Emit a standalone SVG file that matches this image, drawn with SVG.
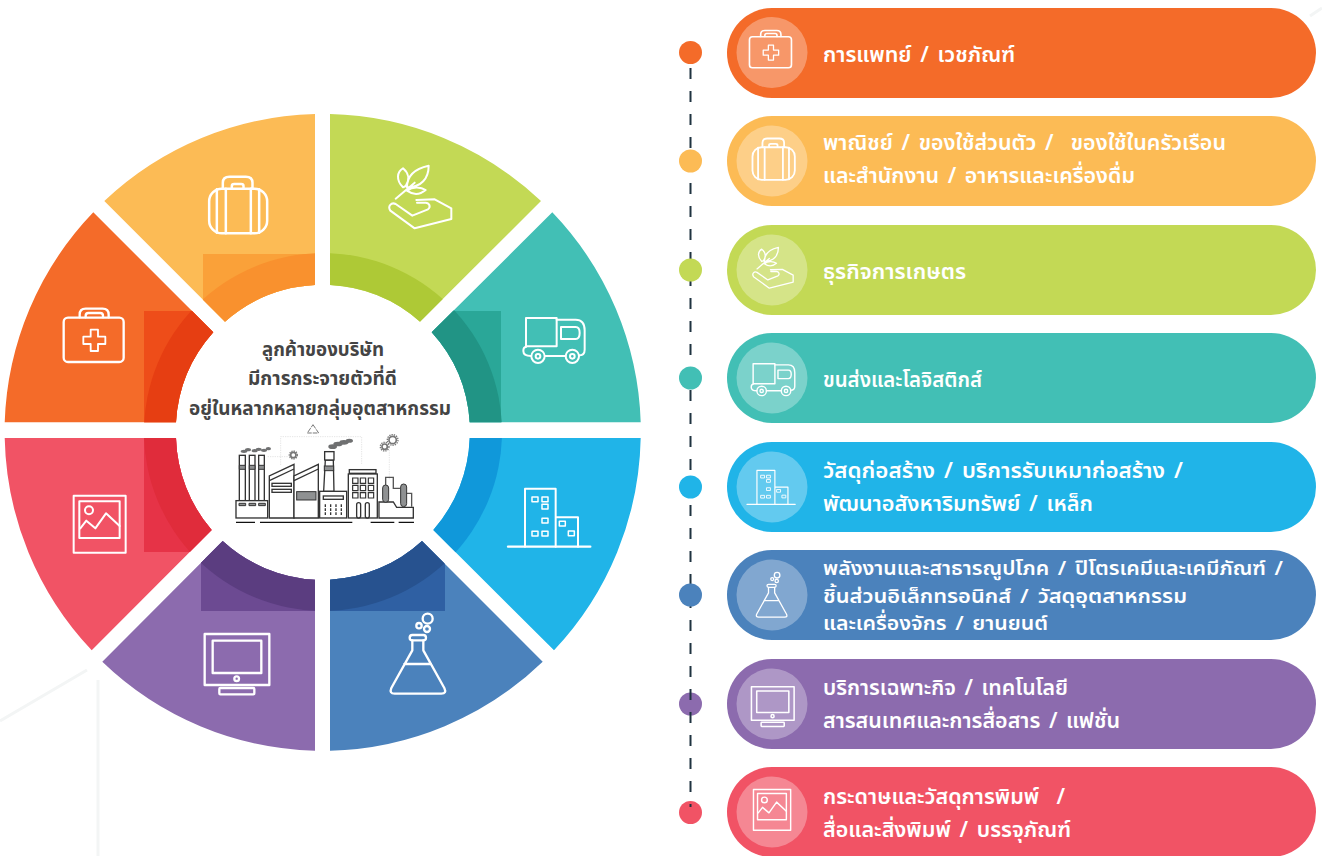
<svg xmlns="http://www.w3.org/2000/svg" xmlns:xlink="http://www.w3.org/1999/xlink" width="1322" height="856" viewBox="0 0 1322 856">
<style>
text{font-family:"Noto Sans Thai","Noto Sans","Open Sans","Liberation Sans",sans-serif;white-space:pre}
.lbl{fill:#fff;font-size:21px;font-weight:600;word-spacing:3px}
.sm{font-size:20px}
.ctr{fill:#444;font-size:19px;font-weight:700}
.halo{fill:#fff;fill-opacity:.3}
.ic{fill:none;stroke:#fff;stroke-linejoin:round;stroke-linecap:round}
.fa{fill:#fff;stroke:#333;stroke-width:4}
.fg{fill:#8f9192;stroke:#333;stroke-width:3}
.fd{fill:none;stroke:#ccc;stroke-width:1.5;stroke-dasharray:4 3}
.bg{fill:none;stroke:#f3f5f5;stroke-width:3}
.gear{fill:none;stroke:#777;stroke-width:5}
.teeth{fill:none;stroke:#777;stroke-width:4;stroke-dasharray:4 3}
</style>
<defs>
<g id="i-med" class="ic" stroke-width="7" transform="scale(.3333) translate(-190,-625)"><rect x="192" y="654" width="180" height="133" rx="13"/><path d="M240 653V645Q240 627 258 627H309Q327 627 327 645V653M258 653V648Q258 640 266 640H302Q310 640 310 648V653"/><path stroke-width="5.500" d="M273 690H295V711H317V733H295V754H273V733H251V711H273Z"/></g>
<g id="i-bag" class="ic" stroke-width="7.500" transform="scale(.3333) translate(-625,-228)"><rect x="627" y="266" width="174" height="134" rx="38"/><path d="M650 268V398M677 266V400M752 266V400M777 268V398M668 265V248Q668 230 688 230H737Q757 230 757 248V265M695 265V258Q695 252 702 252H723Q730 252 730 258V265"/></g>
<g id="i-plant" class="ic" stroke-width="6" transform="scale(.3333) translate(-205,-195)"><path d="M228 296L285 248M250 262C228 240 232 215 250 205C268 220 270 240 258 258ZM262 262C262 225 290 205 327 197C327 235 305 262 262 262ZM262 272C280 258 305 262 318 270C300 285 280 285 262 272ZM290 300L345 298L395 325V357L285 385L212 332C203 318 215 306 228 312L278 347L325 328C335 320 328 308 318 308L292 308"/></g>
<g id="i-truck" class="ic" stroke-width="6" transform="scale(.3333) translate(-610,-650)"><rect x="619" y="653" width="92" height="85"/><path d="M711 658H768Q795 658 795 690V748Q795 765 778 765M724 680H768Q780 680 780 698Q780 716 768 716H724ZM619 740Q611 740 611 752Q611 767 634 767M676 767H738"/><circle cx="655" cy="768" r="20"/><circle cx="655" cy="768" r="7"/><circle cx="758" cy="768" r="20"/><circle cx="758" cy="768" r="7"/></g>
<g id="i-bld" class="ic" stroke-width="6" transform="scale(.3333) translate(-565,-175)"><path stroke-width="7" d="M565 351H812"/><path d="M616 351V177H708V351M708 263H775V351"/><path stroke-width="4.500" d="M637 202h18v14h-18zM667 202h18v14h-18zM667 224h18v14h-18zM667 266h18v14h-18zM637 305h18v14h-18zM667 305h18v14h-18zM719 275h18v14h-18zM746 304h18v14h-18z"/></g>
<g id="i-flask" class="ic" stroke-width="7" transform="scale(.3333) translate(-210,-548)"><circle cx="323" cy="565" r="15"/><circle cx="321" cy="596" r="9"/><circle cx="297" cy="586" r="8"/><rect x="269" y="614" width="49" height="16" rx="8"/><path d="M277 630V660L214 773Q207 790 224 790H364Q381 790 373 773L310 660V630M253 701H333"/></g>
<g id="i-mon" class="ic" stroke-width="7" transform="scale(.3333) translate(-612,-608)"><rect x="614" y="611" width="194" height="153"/><rect x="638" y="631" width="146" height="97"/><circle cx="710" cy="745" r="7"/><rect x="658" y="773" width="105" height="19" rx="3"/></g>
<g id="i-pic" class="ic" stroke-width="6" transform="scale(.3333) translate(-218,-195)"><rect x="220" y="197" width="156" height="171"/><rect x="237" y="214" width="121" height="110"/><circle cx="266" cy="241" r="12"/><path d="M240 295L258 272L285 295L317 250L358 288"/></g>
<clipPath id="c1"><path d="M4.700 422.300A318 318 0 0 1 93.300 212.300L213.300 332.300A147.500 147.500 0 0 0 176 422.300Z"/></clipPath>
<clipPath id="c2"><path d="M104.300 201A318 318 0 0 1 315 114V285A147.500 147.500 0 0 0 225 321.700Z"/></clipPath>
<clipPath id="c3"><path d="M330 114A318 318 0 0 1 541 201L420 321.700A147.500 147.500 0 0 0 330 285Z"/></clipPath>
<clipPath id="c4"><path d="M552.300 212.300A318 318 0 0 1 640.700 422.300H469.700A147.500 147.500 0 0 0 431.700 332.300Z"/></clipPath>
<clipPath id="c5"><path d="M640.700 438A318 318 0 0 1 554 650.300L433.300 530A147.500 147.500 0 0 0 469.700 438Z"/></clipPath>
<clipPath id="c6"><path d="M542.700 661.700A318 318 0 0 1 330 750.700V579.700A147.500 147.500 0 0 0 422 541Z"/></clipPath>
<clipPath id="c7"><path d="M315 750.700A318 318 0 0 1 102.300 661.700L222.700 541A147.500 147.500 0 0 0 315 579.700Z"/></clipPath>
<clipPath id="c8"><path d="M91.700 650.300A318 318 0 0 1 4.700 438H176A147.500 147.500 0 0 0 211.700 530Z"/></clipPath>
</defs>
<rect width="1322" height="856" fill="#fff"/>
<g id="background"><path class="bg" d="M0 721L87 670M98 680V856M1310 16L1322 8"/></g>

<g id="seg-medical"><rect x="0" y="200" width="320" height="225" fill="#f46b29" clip-path="url(#c1)"/><g clip-path="url(#c1)"><rect x="144" y="311" width="112" height="120" fill="#ee4d19"/><circle cx="323" cy="432" r="179" fill="#e63e12"/></g><use href="#i-med" transform="translate(63,308)"/></g>
<g id="seg-commerce"><rect x="100" y="110" width="220" height="220" fill="#fcbb55" clip-path="url(#c2)"/><g clip-path="url(#c2)"><rect x="203" y="254" width="112" height="80" fill="#faa139"/><circle cx="323" cy="432" r="179" fill="#f9912e"/></g><use href="#i-bag" transform="translate(208.500,176)"/></g>
<g id="seg-agri"><rect x="325" y="110" width="220" height="220" fill="#c3d955" clip-path="url(#c3)"/><g clip-path="url(#c3)"><circle cx="323" cy="432" r="179" fill="#aec936"/></g><use href="#i-plant" transform="translate(388,165)"/></g>
<g id="seg-logistics"><rect x="425" y="205" width="220" height="220" fill="#42bfb5" clip-path="url(#c4)"/><g clip-path="url(#c4)"><rect x="425" y="311" width="76" height="112" fill="#2aa798"/><circle cx="323" cy="432" r="179" fill="#219485"/></g><use href="#i-truck" transform="translate(523,317)"/></g>
<g id="seg-construction"><rect x="425" y="435" width="220" height="220" fill="#20b4e8" clip-path="url(#c5)"/><g clip-path="url(#c5)"><circle cx="323" cy="432" r="179" fill="#1098da"/></g><use href="#i-bld" transform="translate(508,488)"/></g>
<g id="seg-energy"><rect x="325" y="535" width="220" height="220" fill="#4b82bc" clip-path="url(#c6)"/><g clip-path="url(#c6)"><rect x="325" y="535" width="120" height="76" fill="#2f60a3"/><circle cx="323" cy="432" r="179" fill="#27528f"/></g><use href="#i-flask" transform="translate(390,613)"/></g>
<g id="seg-tech"><rect x="100" y="535" width="220" height="220" fill="#8c6bae" clip-path="url(#c7)"/><g clip-path="url(#c7)"><rect x="201" y="535" width="116" height="76" fill="#6c4a92"/><circle cx="323" cy="432" r="179" fill="#5b3d80"/></g><use href="#i-mon" transform="translate(204,633)"/></g>
<g id="seg-print"><rect x="0" y="435" width="220" height="220" fill="#f15365" clip-path="url(#c8)"/><g clip-path="url(#c8)"><rect x="144" y="435" width="80" height="117" fill="#e63347"/><circle cx="323" cy="432" r="179" fill="#e02c3b"/></g><use href="#i-pic" transform="translate(73,495)"/></g>

<g id="center">
<text class="ctr" x="262" y="356" textLength="122" lengthAdjust="spacingAndGlyphs">ลูกค้าของบริษัท</text>
<text class="ctr" x="248" y="385" textLength="149" lengthAdjust="spacingAndGlyphs">มีการกระจายตัวที่ดี</text>
<text class="ctr" x="189" y="415" textLength="262" lengthAdjust="spacingAndGlyphs">อยู่ในหลากหลายกลุ่มอุตสาหกรรม</text>
<g id="factory" transform="translate(180,330) scale(.3333)">
<path class="fd" d="M263 380H325M302 405V320H545V405M628 360V450"/>
<path d="M399 284L416 309H382Z" fill="none" stroke="#777" stroke-width="3" stroke-dasharray="14 3"/>
<circle class="gear" cx="340" cy="375" r="8"/><circle class="teeth" cx="340" cy="375" r="12"/>
<circle class="gear" cx="614" cy="350" r="8"/><circle class="teeth" cx="614" cy="350" r="13"/>
<circle class="gear" cx="638" cy="330" r="11"/><circle class="teeth" cx="638" cy="330" r="16"/>
<g fill="#6f7071"><ellipse cx="192" cy="364" rx="10" ry="5"/><ellipse cx="204" cy="359" rx="9" ry="5"/><ellipse cx="224" cy="362" rx="9" ry="5"/><ellipse cx="236" cy="358" rx="9" ry="5"/><ellipse cx="252" cy="361" rx="9" ry="5"/><ellipse cx="265" cy="356" rx="8" ry="5"/><ellipse cx="458" cy="350" rx="13" ry="7"/><ellipse cx="474" cy="342" rx="14" ry="7"/><ellipse cx="492" cy="337" rx="14" ry="7"/><ellipse cx="508" cy="332" rx="11" ry="6"/></g>
<rect class="fa" x="178" y="376" width="18" height="136"/><rect class="fa" x="208" y="376" width="17" height="136"/><rect class="fa" x="236" y="376" width="17" height="136"/>
<path class="fg" d="M178 406h18v12h-18zM208 406h17v12h-17zM236 406h17v12h-17z"/>
<rect class="fa" x="168" y="512" width="95" height="52"/>
<path class="fg" d="M177 520h20v7h-20zM207 520h20v7h-20zM236 520h20v7h-20z"/>
<path class="fa" d="M268 564V438L342 403V564Z"/><path class="fa" d="M268 452L342 417"/>
<rect class="fa" x="276" y="460" width="58" height="9"/><rect class="fa" x="276" y="478" width="58" height="9"/>
<path class="fa" d="M342 564V438L415 403V564Z"/><path class="fa" d="M342 452L415 417"/>
<rect class="fg" x="350" y="485" width="58" height="25"/>
<path class="fa" d="M436 390L431 484H462L460 390Z"/><rect class="fa" x="434" y="365" width="28" height="25"/>
<rect class="fg" x="433" y="408" width="28" height="14"/>
<rect class="fa" x="419" y="484" width="81" height="80"/><rect class="fa" x="430" y="498" width="60" height="10"/>
<path fill="none" stroke="#333" stroke-width="4" stroke-dasharray="8 4" d="M436 523V555M452 523V555M468 523V555M484 523V555"/>
<rect class="fa" x="508" y="419" width="80" height="11"/><rect class="fa" x="505" y="432" width="87" height="132"/>
<path fill="#fff" stroke="#333" stroke-width="3.500" d="M518 444h16v16h-16zM541 444h16v16h-16zM565 444h16v16h-16zM518 466h16v16h-16zM541 466h16v16h-16zM565 466h16v16h-16zM518 488h16v16h-16zM541 488h16v16h-16zM565 488h16v16h-16z"/>
<rect class="fa" x="530" y="518" width="12" height="46" rx="6"/><rect class="fa" x="556" y="518" width="12" height="46" rx="6"/>
<path fill="none" stroke="#555" stroke-width="4" d="M617 465V442H640V475H660M680 490H695V530"/>
<path class="fa" d="M597 564V516H640L650 532H700V564Z"/>
<rect class="fg" x="608" y="465" width="18" height="52" rx="9"/><rect class="fg" x="662" y="462" width="18" height="68" rx="9"/>
<path fill="none" stroke="#111" stroke-width="4" d="M168 577H225M240 577H517M572 577H643M656 577H702"/>
</g>
</g>

<g id="pills">
<g id="pill-1"><rect x="727" y="8" width="589" height="90" rx="45" fill="#f46b29"/><circle class="halo" cx="772" cy="52.500" r="35.500"/><use href="#i-med" transform="translate(749,30) scale(.7)"/><text class="lbl" x="823" y="62" textLength="192" lengthAdjust="spacingAndGlyphs">การแพทย์ / เวชภัณฑ์</text></g>
<g id="pill-2"><rect x="727" y="116" width="589" height="90" rx="45" fill="#fcbb55"/><circle class="halo" cx="772" cy="161" r="35.500"/><use href="#i-bag" transform="translate(752,138) scale(.73)"/><text class="lbl" x="823" y="150" textLength="403" lengthAdjust="spacingAndGlyphs">พาณิชย์ / ของใช้ส่วนตัว /  ของใช้ในครัวเรือน</text><text class="lbl" x="823" y="183" textLength="312" lengthAdjust="spacingAndGlyphs">และสำนักงาน / อาหารและเครื่องดื่ม</text></g>
<g id="pill-3"><rect x="727" y="225" width="589" height="90" rx="45" fill="#c3d955"/><circle class="halo" cx="772" cy="270" r="35.500"/><use href="#i-plant" transform="translate(752,247) scale(.65)"/><text class="lbl" x="823" y="279" textLength="143" lengthAdjust="spacingAndGlyphs">ธุรกิจการเกษตร</text></g>
<g id="pill-4"><rect x="727" y="333" width="589" height="90" rx="45" fill="#42bfb5"/><circle class="halo" cx="772" cy="378" r="35.500"/><use href="#i-truck" transform="translate(751,363) scale(.71)"/><text class="lbl" x="823" y="387" textLength="159" lengthAdjust="spacingAndGlyphs">ขนส่งและโลจิสติกส์</text></g>
<g id="pill-5"><rect x="727" y="442" width="589" height="90" rx="45" fill="#20b4e8"/><circle class="halo" cx="772" cy="487" r="35.500"/><use href="#i-bld" transform="translate(747,470) scale(.585)"/><text class="lbl" x="823" y="478" textLength="360" lengthAdjust="spacingAndGlyphs">วัสดุก่อสร้าง / บริการรับเหมาก่อสร้าง /</text><text class="lbl" x="823" y="511" textLength="270" lengthAdjust="spacingAndGlyphs">พัฒนาอสังหาริมทรัพย์ / เหล็ก</text></g>
<g id="pill-6"><rect x="727" y="550" width="589" height="90" rx="45" fill="#4b82bc"/><circle class="halo" cx="772" cy="595" r="35.500"/><use href="#i-flask" transform="translate(756,572) scale(.56)"/><text class="lbl sm" x="823" y="575" textLength="460" lengthAdjust="spacingAndGlyphs">พลังงานและสาธารณูปโภค / ปิโตรเคมีและเคมีภัณฑ์ /</text><text class="lbl sm" x="823" y="603" textLength="364" lengthAdjust="spacingAndGlyphs">ชิ้นส่วนอิเล็กทรอนิกส์ / วัสดุอุตสาหกรรม</text><text class="lbl sm" x="823" y="630" textLength="225" lengthAdjust="spacingAndGlyphs">และเครื่องจักร / ยานยนต์</text></g>
<g id="pill-7"><rect x="727" y="659" width="589" height="90" rx="45" fill="#8c6bae"/><circle class="halo" cx="772" cy="704" r="35.500"/><use href="#i-mon" transform="translate(751,686) scale(.66)"/><text class="lbl" x="823" y="695" textLength="245" lengthAdjust="spacingAndGlyphs">บริการเฉพาะกิจ / เทคโนโลยี</text><text class="lbl" x="823" y="728" textLength="297" lengthAdjust="spacingAndGlyphs">สารสนเทศและการสื่อสาร / แฟชั่น</text></g>
<g id="pill-8"><rect x="727" y="767" width="589" height="90" rx="45" fill="#f15365"/><circle class="halo" cx="772" cy="812" r="35.500"/><use href="#i-pic" transform="translate(753,789) scale(.715)"/><text class="lbl" x="823" y="804" textLength="242" lengthAdjust="spacingAndGlyphs">กระดาษและวัสดุการพิมพ์  /</text><text class="lbl" x="823" y="837" textLength="248" lengthAdjust="spacingAndGlyphs">สื่อและสิ่งพิมพ์ / บรรจุภัณฑ์</text></g>
</g>

<g id="dot-7"><circle cx="690.500" cy="704" r="11.500" fill="#8c6bae"/></g>
<g id="dot-8"><circle cx="690.500" cy="812.500" r="11.500" fill="#f15365"/></g>
<g id="connectors"><path d="M690.500 68V807" fill="none" stroke="#1f3340" stroke-width="2" stroke-dasharray="11 12"/></g>
<g id="dot-1"><circle cx="690.500" cy="52.500" r="11.500" fill="#f46b29"/></g>
<g id="dot-2"><circle cx="690.500" cy="161" r="11.500" fill="#fcbb55"/></g>
<g id="dot-3"><circle cx="690.500" cy="270" r="11.500" fill="#c3d955"/></g>
<g id="dot-4"><circle cx="690.500" cy="378" r="11.500" fill="#42bfb5"/></g>
<g id="dot-5"><circle cx="690.500" cy="487" r="11.500" fill="#20b4e8"/></g>
<g id="dot-6"><circle cx="690.500" cy="595" r="11.500" fill="#4b82bc"/></g>
</svg>
